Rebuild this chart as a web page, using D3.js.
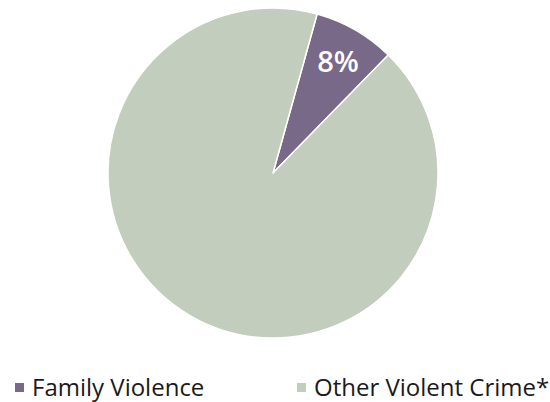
<!DOCTYPE html>
<html>
<head>
<meta charset="utf-8">
<script src="https://cdn.jsdelivr.net/npm/d3@7"></script>
<style>
  html, body { margin: 0; padding: 0; background: #ffffff; }
  svg { display: block; }
</style>
</head>
<body>
<svg id="chart" width="550" height="402"></svg>
<script>
const categories = ["Family Violence", "Other Violent Crime*"];
const values = [8, 92];
const labels = ["8%", ""];
const colors = ["#776987", "#c2cdbd"];

const svg = d3.select("#chart");
const cx = 273, cy = 173, R = 165;
const startDeg = 15.5;

const pie = d3.pie().sort(null).value(d => d.value)
  .startAngle(startDeg * Math.PI / 180)
  .endAngle(startDeg * Math.PI / 180 + 2 * Math.PI);
const data = categories.map((c, i) => ({ name: c, value: values[i], label: labels[i], color: colors[i] }));
const arcs = pie(data);
const arc = d3.arc().innerRadius(0).outerRadius(R);
const labelArc = d3.arc().innerRadius(R * 0.79).outerRadius(R * 0.79);

const g = svg.append("g").attr("transform", `translate(${cx},${cy})`);
g.selectAll("path").data(arcs).enter().append("path")
  .attr("d", arc)
  .attr("fill", d => d.data.color)
  .attr("stroke", "#ffffff")
  .attr("stroke-width", 1.5)
  .attr("stroke-linejoin", "round");

g.selectAll("text.lbl").data(arcs.filter(d => d.data.label)).enter().append("text")
  .attr("class", "lbl")
  .attr("transform", d => `translate(${labelArc.centroid(d)})`)
  .attr("text-anchor", "middle")
  .attr("dominant-baseline", "central")
  .attr("font-family", "'Open Sans', sans-serif")
  .attr("font-weight", 600)
  .attr("font-size", 29)
  .attr("fill", "#ffffff")
  .text(d => d.data.label);

// Legend
const legendX = [15, 297];
const legend = svg.append("g");
data.forEach((d, i) => {
  const lg = legend.append("g").attr("transform", `translate(${legendX[i]},0)`);
  lg.append("rect").attr("x", 0).attr("y", 383).attr("width", 9).attr("height", 9).attr("fill", d.color);
  lg.append("text").attr("x", 17).attr("y", 396)
    .attr("font-family", "'Open Sans', sans-serif")
    .attr("font-size", 24)
    .attr("fill", "#1a1a1a")
    .text(d.name);
});
</script>
</body>
</html>
